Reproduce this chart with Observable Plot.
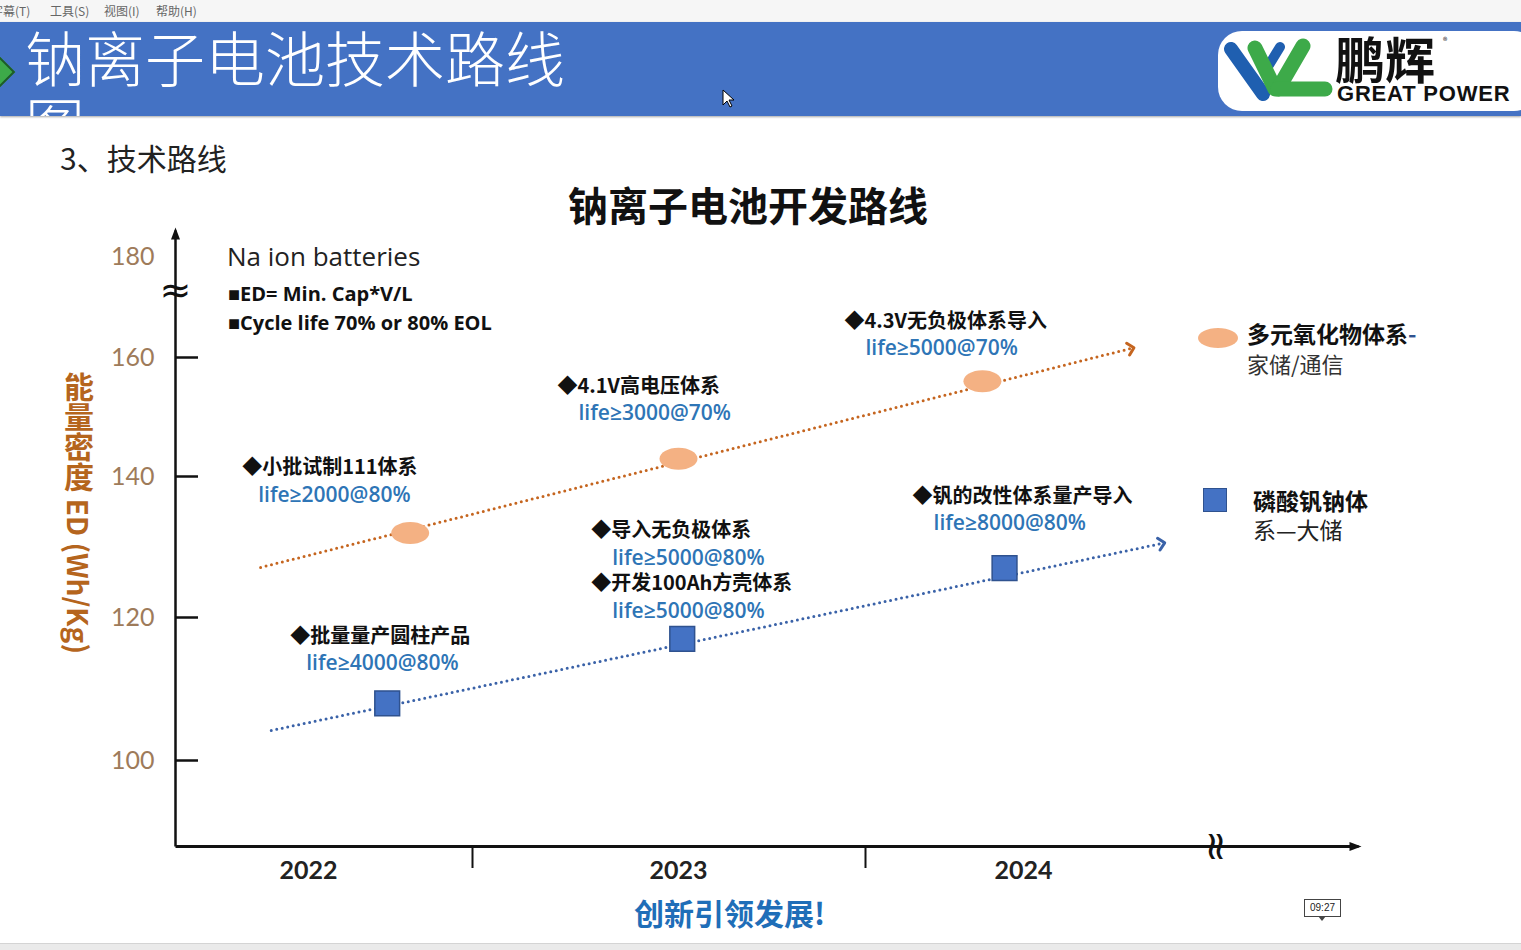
<!DOCTYPE html>
<html>
<head>
<meta charset="utf-8">
<script src="https://cdn.jsdelivr.net/npm/d3@7"></script>
<script src="https://cdn.jsdelivr.net/npm/@observablehq/plot@0.6"></script>
<style>
html, body { margin: 0; padding: 0; }
body { width: 1521px; height: 950px; position: relative; overflow: hidden; background: #fff;
  font-family: "Noto Sans CJK SC", "Noto Sans", sans-serif; }
.abs { position: absolute; white-space: nowrap; }
marker path { stroke-dasharray: none; }
#chart { position: absolute; left: 0; top: 220px; }
</style>
</head>
<body>
<!-- menu bar -->
<div class="abs" style="left:0;top:0;width:1521px;height:22px;background:#F6F6F6;"></div>
<div class="abs" style="left:-9px;top:4px;font-size:12px;line-height:14px;color:#666;">字幕(T)</div>
<div class="abs" style="left:50px;top:4px;font-size:12px;line-height:14px;color:#666;">工具(S)</div>
<div class="abs" style="left:104px;top:4px;font-size:12px;line-height:14px;color:#666;">视图(I)</div>
<div class="abs" style="left:156px;top:4px;font-size:12px;line-height:14px;color:#666;">帮助(H)</div>

<!-- banner -->
<div class="abs" style="left:0;top:22px;width:1521px;height:94px;background:#4472C4;box-shadow:0 1px 2px rgba(0,0,0,.35);overflow:hidden;">
  <div style="position:absolute;left:-62px;top:18px;width:60px;height:60px;background:#3DAA49;border:2px solid #1d5a2a;transform:rotate(45deg);"></div>
  <div style="position:absolute;left:25px;top:1px;width:560px;font-size:60px;line-height:66px;color:#fff;font-weight:300;white-space:normal;">钠离子电池技术路线图</div>
</div>
<!-- logo -->
<svg class="abs" style="left:1215px;top:28px;" width="306" height="86">
  <rect x="3" y="3" width="320" height="80" rx="24" fill="#fff"/>
  <g stroke-linecap="round" fill="none">
    <line x1="16" y1="21" x2="48" y2="66" stroke="#1F5FB0" stroke-width="14"/>
    <line x1="65" y1="19" x2="54" y2="37" stroke="#1F5FB0" stroke-width="10"/>
    <line x1="40" y1="20" x2="60" y2="61" stroke="#3DAA49" stroke-width="15"/>
    <line x1="88" y1="18" x2="63" y2="61" stroke="#3DAA49" stroke-width="15"/>
    <line x1="63" y1="61" x2="110" y2="61" stroke="#3DAA49" stroke-width="15"/>
  </g>
</svg>
<div class="abs" style="left:1335px;top:30px;font-size:50px;line-height:54px;font-weight:bold;color:#111;">鹏辉</div>
<div class="abs" style="left:1443px;top:34px;font-size:9px;color:#111;">®</div>
<div class="abs" style="left:1337px;top:83px;font-size:22px;line-height:22px;font-weight:bold;letter-spacing:0.8px;color:#111;font-family:'Liberation Sans',sans-serif;">GREAT POWER</div>
<!-- cursor -->
<svg class="abs" style="left:722px;top:89px;" width="14" height="20">
  <polygon points="1,1 1,16 5,12 8,18 10,17 7,11 12,11" fill="#fff" stroke="#000" stroke-width="1"/>
</svg>

<div class="abs" style="left:60px;top:142px;font-size:30px;line-height:30px;color:#222;">3、技术路线</div>
<div class="abs" style="left:748px;top:184px;transform:translateX(-50%);font-size:40px;line-height:40px;font-weight:bold;color:#111;">钠离子电池开发路线</div>

<div id="chart"></div>

<!-- annotation block -->
<div class="abs" style="left:227px;top:243px;font-size:26px;line-height:26px;color:#222;font-family:'Open Sans',sans-serif;">Na ion batteries</div>
<div class="abs" style="left:228px;top:284px;font-size:20px;line-height:20px;font-weight:bold;color:#111;font-family:'Open Sans',sans-serif;">■ED= Min. Cap*V/L</div>
<div class="abs" style="left:228px;top:313px;font-size:20px;line-height:20px;font-weight:bold;color:#111;font-family:'Open Sans',sans-serif;">■Cycle life 70% or 80% EOL</div>

<!-- y label -->
<div class="abs" style="left:62px;top:372px;writing-mode:vertical-rl;font-size:30px;line-height:34px;font-weight:bold;color:#B5651D;">能量密度 <span style="font-size:28px;">ED (Wh/Kg)</span></div>

<!-- legend -->
<div id="legend"></div>

<div class="abs" style="left:634px;top:897px;font-size:30px;line-height:30px;font-weight:bold;color:#1F6EB8;">创新引领发展!</div>
<div class="abs" style="left:1304px;top:899px;width:35px;height:16px;border:1px solid #444;background:#fff;font-size:10px;line-height:16px;text-align:center;color:#222;font-family:'Liberation Sans',sans-serif;">09:27</div>
<div class="abs" style="left:1318px;top:916px;width:0;height:0;border-left:4px solid transparent;border-right:4px solid transparent;border-top:5px solid #444;"></div>
<div class="abs" style="left:0;top:943px;width:1521px;height:7px;background:#EAEAEA;border-top:1px solid #D4D4D4;"></div>

<script>
// ---------- data ----------
const years = [2022, 2023, 2024];
const edTicks = [100, 120, 140, 160, 180];
const yearBoundaries = [2022.5, 2023.5];

const oxideYear = [2022.31, 2023.0, 2023.87];
const oxideED = [132, 143, 156];
const oxideNotes = [["小批试制111体系"], ["4.1V高电压体系"], ["4.3V无负极体系导入"]];
const oxideLife = [["life≥2000@80%"], ["life≥3000@70%"], ["life≥5000@70%"]];

const phosphateYear = [2022.24, 2023.01, 2023.94];
const phosphateED = [108, 117, 127];
const phosphateNotes = [["批量量产圆柱产品"], ["导入无负极体系", "开发100Ah方壳体系"], ["钒的改性体系量产导入"]];
const phosphateLife = [["life≥4000@80%"], ["life≥5000@80%", "life≥5000@80%"], ["life≥8000@80%"]];

const oxideTrendYear = [2021.82, 2024.28];
const oxideTrendED = [127.1, 161.8];
const phosphateTrendYear = [2021.86, 2024.36];
const phosphateTrendED = [104.2, 130.5];

const legendTitles = ["多元氧化物体系", "磷酸钒钠体"];
const legendSubtitles = ["家储/通信", "系—大储"];

// ---------- scale configuration (piecewise, as in the slide) ----------
const xKnots = [2021.5, 2022, 2022.5, 2023, 2023.5, 2024, 2024.5, 2025];
const xPixels = [175, 308, 472, 678, 865, 1023, 1215, 1358];
const yKnots = [88, 100, 120, 140, 160, 180, 184.75];
const yPixels = [626, 540, 397, 256, 137, 36, 10];
const yBreak = 173.3, xBreak = 2024.5;

const ORANGE = "#F4B183", ORANGE_LINE = "#C5651F";
const BLUE = "#4472C4", BLUE_EDGE = "#2F528F", BLUE_LINE = "#3A62A8";

const oxide = oxideYear.map((x, i) => ({x, y: oxideED[i]}));
const phosphate = phosphateYear.map((x, i) => ({x, y: phosphateED[i]}));
const trends = [
  {x1: oxideTrendYear[0], y1: oxideTrendED[0], x2: oxideTrendYear[1], y2: oxideTrendED[1], c: ORANGE_LINE},
  {x1: phosphateTrendYear[0], y1: phosphateTrendED[0], x2: phosphateTrendYear[1], y2: phosphateTrendED[1], c: BLUE_LINE}
];

const notes = [];
oxideYear.forEach((x, i) => oxideNotes[i].forEach((t, j) => notes.push({x, y: oxideED[i], title: t, life: oxideLife[i][j]})));
phosphateYear.forEach((x, i) => phosphateNotes[i].forEach((t, j) => notes.push({x, y: phosphateED[i], title: t, life: phosphateLife[i][j]})));
// label placement relative to its marker: [dx, dy, life indent]
const noteOffsets = [[-168, -65, 16], [-121, -72, 21], [-138, -60, 21], [-97, -67, 16], [-91, -108, 21], [-91, -55, 21], [-92, -72, 21]];

const ellipseSymbol = {
  draw(context) {
    const rx = 19, ry = 11, k = 0.5523;
    context.moveTo(rx, 0);
    context.bezierCurveTo(rx, ry * k, rx * k, ry, 0, ry);
    context.bezierCurveTo(-rx * k, ry, -rx, ry * k, -rx, 0);
    context.bezierCurveTo(-rx, -ry * k, -rx * k, -ry, 0, -ry);
    context.bezierCurveTo(rx * k, -ry, rx, -ry * k, rx, 0);
    context.closePath();
  }
};
const headUp = {draw(c) { c.moveTo(0, -3); c.lineTo(4.5, 9); c.lineTo(-4.5, 9); c.closePath(); }};
const headRight = {draw(c) { c.moveTo(3, 0); c.lineTo(-9, 4.5); c.lineTo(-9, -4.5); c.closePath(); }};

const noteMarks = notes.flatMap((n, k) => {
  const [dx, dy, indent] = noteOffsets[k];
  return [
    Plot.text([n], {x: "x", y: "y", text: d => "◆" + d.title, dx, dy, textAnchor: "start",
      fontSize: 20, fontWeight: "bold", fill: "#111"}),
    Plot.text([n], {x: "x", y: "y", text: "life", dx: dx + indent, dy: dy + 27, textAnchor: "start",
      fontSize: 21, fontWeight: 600, fill: "#2E75B6", fontFamily: "Open Sans"})
  ];
});

const x0 = xKnots[0], xEnd = xKnots[xKnots.length - 1];
const y0 = yKnots[0], yEnd = yKnots[yKnots.length - 1];

const chart = Plot.plot({
  width: 1521,
  height: 680,
  marginLeft: 175, marginRight: 163, marginTop: 10, marginBottom: 54,
  style: {fontFamily: "'Noto Sans CJK SC', 'Noto Sans', sans-serif", background: "transparent", overflow: "visible"},
  x: {type: "linear", domain: xKnots, range: xPixels, axis: null, label: null},
  y: {type: "linear", domain: yKnots, range: yPixels, axis: null, label: null},
  marks: [
    Plot.link([0], {x1: x0, y1: y0, x2: x0, y2: yEnd, stroke: "#111", strokeWidth: 2.5}),
    Plot.link([0], {x1: x0, y1: y0, x2: xEnd, y2: y0, stroke: "#111", strokeWidth: 3}),
    Plot.dot([0], {x: x0, y: yEnd, symbol: headUp, fill: "#111", r: 5}),
    Plot.dot([0], {x: xEnd, y: y0, symbol: headRight, fill: "#111", r: 5}),
    Plot.ruleY(edTicks.slice(0, 4), {x1: x0, x2: x0, insetRight: -23, stroke: "#111", strokeWidth: 2.5}),
    Plot.ruleX(yearBoundaries, {y1: y0, y2: y0, insetBottom: -22, stroke: "#111", strokeWidth: 2}),
    Plot.axisY({ticks: edTicks, tickSize: 0, tickPadding: 21, fontSize: 25, fill: "#9E7B5A",
      fontFamily: "Lato", tickFormat: d => String(d), label: null}),
    Plot.axisX({ticks: years, tickSize: 0, tickPadding: 15, fontSize: 25, fontWeight: "bold", fill: "#222",
      fontFamily: "Lato", tickFormat: d => String(d), label: null}),
    Plot.text(["≈"], {x: x0, y: yBreak, text: d => d, fontSize: 38, fill: "#111", fontFamily: "DejaVu Sans"}),
    Plot.text(["≈"], {x: xBreak, y: y0, text: d => d, rotate: 90, fontSize: 40, fill: "#111", fontFamily: "DejaVu Sans"}),
    Plot.link(trends, {x1: "x1", y1: "y1", x2: "x2", y2: "y2", stroke: "c", strokeWidth: 3,
      strokeDasharray: "0 5.6", strokeLinecap: "round", markerEnd: "arrow"}),
    Plot.dot(oxide, {x: "x", y: "y", symbol: ellipseSymbol, fill: ORANGE, r: 10}),
    Plot.dot(phosphate, {x: "x", y: "y", symbol: "square", r: 14, fill: BLUE, stroke: BLUE_EDGE, strokeWidth: 1.5}),
    ...noteMarks
  ]
});
document.getElementById("chart").appendChild(chart);

// legend (HTML, beside the plot)
const legend = document.getElementById("legend");
legend.innerHTML = `
  <div class="abs" style="left:1198px;top:328px;width:40px;height:20px;border-radius:50%;background:${ORANGE};"></div>
  <div class="abs" style="left:1247px;top:322px;font-size:23px;line-height:23px;font-weight:bold;color:#111;">${legendTitles[0]}<span style="color:#2F528F">-</span></div>
  <div class="abs" style="left:1247px;top:352px;font-size:22px;line-height:22px;color:#333;">${legendSubtitles[0]}</div>
  <div class="abs" style="left:1203px;top:488px;width:24px;height:24px;box-sizing:border-box;background:${BLUE};border:1.5px solid ${BLUE_EDGE};"></div>
  <div class="abs" style="left:1253px;top:489px;font-size:23px;line-height:23px;font-weight:bold;color:#111;">${legendTitles[1]}</div>
  <div class="abs" style="left:1253px;top:518px;font-size:23px;line-height:23px;color:#222;">${legendSubtitles[1]}</div>
`;
</script>
</body>
</html>
